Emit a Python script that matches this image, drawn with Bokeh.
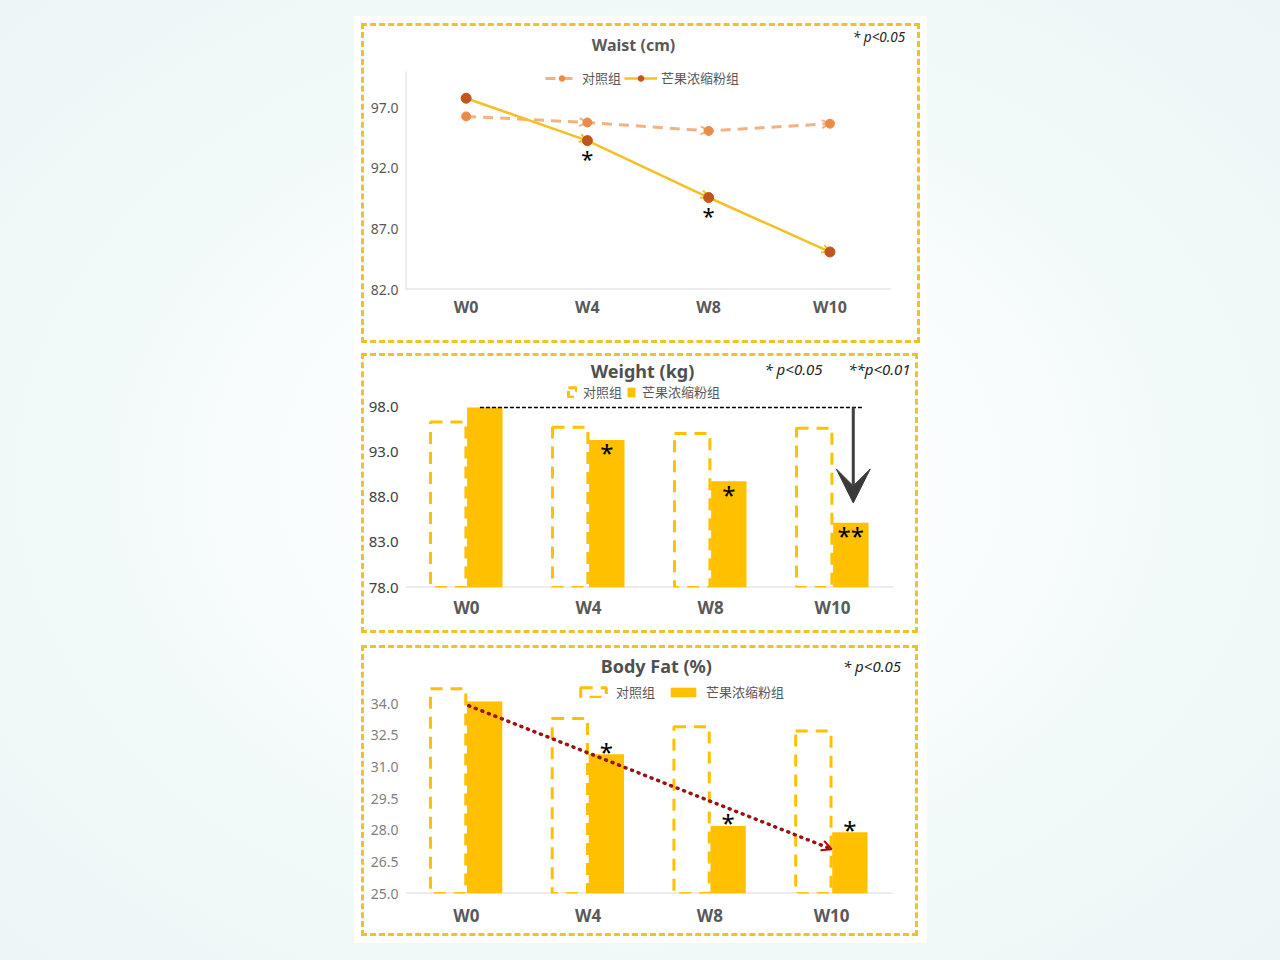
from bokeh.plotting import figure
from bokeh.models import (Range1d, FixedTicker, Label, Legend, LegendItem, Arrow,
                          OpenHead, VeeHead, ColumnDataSource, NumeralTickFormatter)
from bokeh.layouts import column
from bokeh.embed import file_html
from bokeh.resources import INLINE
from bokeh.core.properties import value

# ---------------- data ----------------
weeks = ["W0", "W4", "W8", "W10"]
groups = ["对照组", "芒果浓缩粉组"]

waist_control = [96.3, 95.8, 95.1, 95.7]
waist_mango = [97.8, 94.3, 89.6, 85.1]
waist_sig = ["", "*", "*", ""]
waist_ticks = [82.0, 87.0, 92.0, 97.0]
waist_axis = [82.0, 100.0]

weight_control = [96.4, 95.8, 95.1, 95.7]
weight_mango = [98.0, 94.4, 89.8, 85.2]
weight_sig = ["", "*", "*", "**"]
weight_ticks = [78.0, 83.0, 88.0, 93.0, 98.0]
weight_arrow_end = 87.4

fat_control = [34.7, 33.3, 32.9, 32.7]
fat_mango = [34.1, 31.6, 28.2, 27.9]
fat_sig = ["", "*", "*", "*"]
fat_ticks = [25.0, 26.5, 28.0, 29.5, 31.0, 32.5, 34.0]
fat_trend = [33.9, 27.1]   # trend arrow from W0 to W10

titles = ["Waist (cm)", "Weight (kg)", "Body Fat (%)"]
pnotes = ["* p<0.05", "**p<0.01"]

# ---------------- style ----------------
GOLD = "#FFC000"
BORDER = "#EFC22B"
TXT = "#595959"
AXIS = "#D9D9D9"
LAT = "Noto Sans"
CJK = "Noto Sans CJK SC"
B = 3  # css border width

xs = list(range(len(weeks)))
x_lo, x_hi = -0.5, len(weeks) - 0.5


def base_fig(w, h, xr, yr, ticks, left, bottom, tsize, tcolor, xsize, xstand):
    p = figure(width=w, height=h,
               x_range=Range1d(*xr), y_range=Range1d(*yr),
               output_backend="svg", toolbar_location=None,
               min_border_left=left, min_border_right=2 * B,
               min_border_top=3, min_border_bottom=bottom + 2 * B)
    p.styles = {"border": f"{B}px dashed {BORDER}", "background-color": "white"}
    p.grid.visible = False
    p.outline_line_color = None
    p.background_fill_color = "white"
    p.border_fill_color = "white"
    p.xaxis.ticker = FixedTicker(ticks=xs)
    p.xaxis.major_label_overrides = {i: wk for i, wk in enumerate(weeks)}
    p.xaxis.major_label_text_font = LAT
    p.xaxis.major_label_text_font_style = "bold"
    p.xaxis.major_label_text_font_size = xsize
    p.xaxis.major_label_text_color = TXT
    p.xaxis.major_label_standoff = xstand
    p.yaxis.ticker = FixedTicker(ticks=ticks)
    p.yaxis.formatter = NumeralTickFormatter(format="0.0")
    p.yaxis.major_label_text_font = LAT
    p.yaxis.major_label_text_font_size = tsize
    p.yaxis.major_label_text_color = tcolor
    p.yaxis.major_label_standoff = 7
    for ax in (p.xaxis, p.yaxis):
        ax.axis_line_color = None
        ax.major_tick_line_color = None
        ax.minor_tick_line_color = None
        ax.major_tick_out = 0
        ax.major_tick_in = 0
        ax.minor_tick_out = 0
        ax.minor_tick_in = 0
    # baseline (category axis line) spanning the category slots only
    p.segment(x0=[x_lo], y0=[yr[0]], x1=[x_hi], y1=[yr[0]],
              line_color=AXIS, line_width=2)
    return p


def add_label(p, x, y, text, size, style="normal", align="center",
              color=TXT, font=LAT):
    p.add_layout(Label(x=x, y=y, text=text, text_align=align,
                       text_baseline="middle", text_font=font,
                       text_font_size=size, text_font_style=style,
                       text_color=color))


def legend(items, loc, gw, gh, standoff, spacing):
    return Legend(items=items, location=loc, orientation="horizontal",
                  background_fill_alpha=0, border_line_alpha=0,
                  label_text_font=CJK, label_text_font_size="13px",
                  label_text_color=TXT, glyph_width=gw, glyph_height=gh,
                  label_standoff=standoff, spacing=spacing, padding=2, margin=0,
                  label_height=gh)


# ================= 1. Waist =================
p1 = base_fig(559, 320, (x_lo, 3.722), (82, 103.48), waist_ticks, 41, 51,
              "14px", TXT, "16px", 6)
p1.segment(x0=[x_lo], y0=[waist_axis[0]], x1=[x_lo], y1=[waist_axis[1]],
           line_color=AXIS, line_width=2)
C_LINE, C_MK = "#F4B183", "#EE8A48"
M_LINE, M_MK = "#F4C024", "#C0561B"
src1 = ColumnDataSource(dict(x=xs, c=waist_control, m=waist_mango, s=waist_sig))
for i in range(1, len(xs)):
    p1.add_layout(Arrow(x_start=xs[i - 1], y_start=waist_control[i - 1],
                        x_end=xs[i], y_end=waist_control[i], line_alpha=0,
                        level="underlay",
                        end=OpenHead(size=8, line_color=C_LINE, line_width=2)))
    p1.add_layout(Arrow(x_start=xs[i - 1], y_start=waist_mango[i - 1],
                        x_end=xs[i], y_end=waist_mango[i], line_alpha=0,
                        level="underlay",
                        end=OpenHead(size=8, line_color=M_LINE, line_width=2)))
cl = p1.line("x", "c", source=src1, line_color=C_LINE, line_width=3,
             line_dash="10 7")
cp = p1.scatter("x", "c", source=src1, size=9, fill_color=C_MK, line_color=C_MK)
ml = p1.line("x", "m", source=src1, line_color=M_LINE, line_width=2.5)
mp = p1.scatter("x", "m", source=src1, size=10, fill_color=M_MK, line_color=M_MK)
p1.text("x", "m", text="s", source=src1, text_align="center",
        text_baseline="middle", text_font=value(LAT), text_font_size="22px",
        y_offset=17, text_color="black")
p1.add_layout(legend([LegendItem(label=groups[0], renderers=[cl, cp]),
                      LegendItem(label=groups[1], renderers=[ml, mp])],
                     (138, 200), 33, 14, 4, 3))
add_label(p1, 1.38, 102.24, titles[0], "16px", style="bold")
add_label(p1, 3.62, 102.9, pnotes[0], "13.5px", style="italic", align="right",
          color="#262626")

# ================= 2. Weight =================
p2 = base_fig(557, 280, (x_lo, 3.68), (78, 103.33), weight_ticks, 41, 43,
              "15px", "#404040", "17px", 8)
src2 = ColumnDataSource(dict(xc=[x - 0.15 for x in xs], xm=[x + 0.15 for x in xs],
                             c=weight_control, m=weight_mango, s=weight_sig))
r2c = p2.vbar(x="xc", width=0.29, top="c", bottom=78, source=src2,
              fill_alpha=0, line_color=GOLD, line_width=3, line_dash="12 8")
r2m = p2.vbar(x="xm", width=0.29, top="m", bottom=78, source=src2,
              fill_color=GOLD, line_color=None)
p2.text("xm", "m", text="s", source=src2, text_align="center",
        text_baseline="middle", text_font=value(LAT), text_font_size="24px",
        y_offset=13, text_color="black")
p2.segment(x0=[0.11], y0=[weight_mango[0]], x1=[3.25], y1=[weight_mango[0]],
           line_color="black", line_width=1.3, line_dash="4 2")
p2.add_layout(Arrow(x_start=3.17, y_start=weight_mango[0], x_end=3.17,
                    y_end=weight_arrow_end, line_color="#404040", line_width=3,
                    end=VeeHead(size=34, fill_color="#3A3A3A",
                                line_color="#3A3A3A")))
p2.add_layout(legend([LegendItem(label=groups[0], renderers=[r2c]),
                      LegendItem(label=groups[1], renderers=[r2m])],
                     (160, 184), 10, 12, 6, 4))
add_label(p2, 1.443, 102.1, titles[1], "18px", style="bold", color="#505050")
add_label(p2, 2.68, 102.33, pnotes[0], "15px", style="italic", color="#262626")
add_label(p2, 3.64, 102.33, pnotes[1], "15px", style="italic", align="right",
          color="#262626")
p2.margin = (10, 0, 0, 0)

# ================= 3. Body fat =================
p3 = base_fig(557, 291, (x_lo, 3.689), (25, 36.47), fat_ticks, 41, 40,
              "14px", "#7F7F7F", "17px", 10)
src3 = ColumnDataSource(dict(xc=[x - 0.15 for x in xs], xm=[x + 0.15 for x in xs],
                             c=fat_control, m=fat_mango, s=fat_sig))
r3c = p3.vbar(x="xc", width=0.29, top="c", bottom=25, source=src3,
              fill_alpha=0, line_color=GOLD, line_width=3, line_dash="12 8")
r3m = p3.vbar(x="xm", width=0.29, top="m", bottom=25, source=src3,
              fill_color=GOLD, line_color=None)
p3.text("xm", "m", text="s", source=src3, text_align="center",
        text_baseline="middle", text_font=value(LAT), text_font_size="24px",
        y_offset=-3, text_color="black")
p3.add_layout(Arrow(x_start=xs[0] + 0.02, y_start=fat_trend[0],
                    x_end=xs[-1], y_end=fat_trend[1],
                    line_color="#9A1212", line_width=3.5, line_dash="1 6",
                    line_cap="round",
                    end=OpenHead(size=10, line_color="#C00000", line_width=2)))
p3.add_layout(legend([LegendItem(label=groups[0], renderers=[r3c]),
                      LegendItem(label=groups[1], renderers=[r3m])],
                     (170, 190), 32, 12, 7, 12))
add_label(p3, 1.56, 35.8, titles[2], "18px", style="bold", color="#505050")
add_label(p3, 3.57, 35.8, pnotes[0], "15px", style="italic", align="right",
          color="#262626")
p3.margin = (12, 0, 0, 0)

layout = column(p1, p2, p3, spacing=0, margin=(23, 0, 0, 361),
                styles={"background-color": "white",
                        "box-shadow": "0 0 0 7px white"})

html = file_html(layout, INLINE, title="chart")
bg = ('<body style="margin:0;min-height:960px;background:radial-gradient('
      'ellipse at 50% 50%, #ffffff 0%, #fcfefe 30%, #f2f9f9 62%, #ecf6f6 100%);">')
k = html.rfind("<body")
if k >= 0:
    e = html.find(">", k)
    html = html[:k] + bg + html[e + 1:]
open("out.html", "w").write(html)
